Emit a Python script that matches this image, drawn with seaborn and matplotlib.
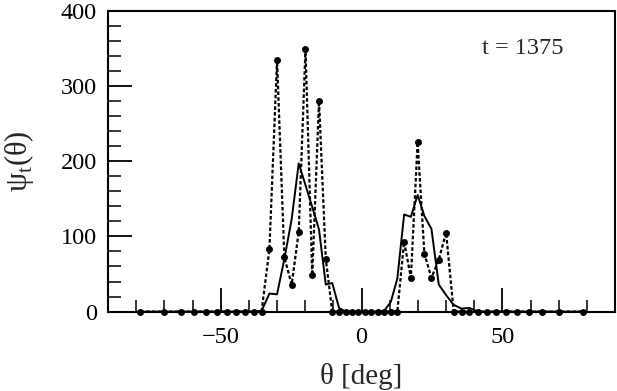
import numpy as np
import pandas as pd
import seaborn as sns
import matplotlib.pyplot as plt
from matplotlib.ticker import MultipleLocator

# angle grid (deg)
theta = [-78.5, -70.0, -64.2, -59.3, -55.1, -51.3, -47.7, -44.4, -41.3, -38.3,
         -35.5, -32.7, -30.0, -27.4, -24.8, -22.3, -19.9, -17.5, -15.1, -12.7,
         -10.4, -8.0, -5.7, -3.4, -1.1, 1.1, 3.4, 5.7, 8.0, 10.4,
         12.7, 15.1, 17.5, 19.9, 22.3, 24.8, 27.4, 30.0, 32.7, 35.5,
         38.3, 41.3, 44.4, 47.7, 51.3, 55.1, 59.3, 64.2, 70.0, 78.5]

# dotted series with dots
psi_dots = [0, 0, 0, 0, 0, 0, 0, 0, 0, 0,
            0, 83, 334, 72, 36, 106, 349, 48, 280, 70,
            0, 0, 0, 0, 0, 0, 0, 0, 0, 0,
            0, 93, 45, 225, 77, 45, 69, 105, 0, 0,
            0, 0, 0, 0, 0, 0, 0, 0, 0, 0]

# solid series
psi_line = [0, 0, 0, 0, 0, 0, 0, 0, 0, 0,
            1, 24, 23, 70, 123, 197, 168, 139, 109, 36,
            38, 5, 0, 0, 0, 0, 0, 0, 1, 13,
            44, 129, 126, 155, 127, 110, 36, 22, 9, 4,
            5, 0, 0, 0, 0, 0, 0, 0, 0, 0]

xticks = [-50, 0, 50]
yticks = [0, 100, 200, 300, 400]

df = pd.DataFrame({'theta': theta, 'dots': psi_dots, 'line': psi_line})

sns.set_style('ticks')
plt.rcParams['font.family'] = ['Liberation Serif', 'DejaVu Serif']
plt.rcParams['mathtext.fontset'] = 'custom'
plt.rcParams['mathtext.rm'] = 'Liberation Serif'

fig = plt.figure(figsize=(6.17, 3.91), dpi=100)
ax = fig.add_axes([0.175, 0.203, 0.822, 0.770])

sns.lineplot(data=df, x='theta', y='line', ax=ax, color='black', linewidth=1.4,
             sort=False, clip_on=False)
sns.lineplot(data=df, x='theta', y='dots', ax=ax, color='black', linewidth=1.6,
             linestyle=(0, (1.6, 1.0)), marker='o', markersize=5,
             markeredgewidth=0, sort=False, clip_on=False)

ax.set_xlim(-90, 90)
ax.set_ylim(0, 400)
ax.set_xticks(xticks)
ax.set_yticks(yticks)
ax.xaxis.set_minor_locator(MultipleLocator(10))
ax.yaxis.set_minor_locator(MultipleLocator(20))
ax.tick_params(which='major', direction='in', length=17, width=1.3,
               labelsize=17.5, top=False, right=False, pad=8, colors='black')
ax.tick_params(axis='x', which='major', pad=11)
ax.tick_params(which='minor', direction='in', length=9, width=1.3,
               top=False, right=False)
for s in ax.spines.values():
    s.set_linewidth(1.5)
    s.set_color('black')

ax.set_xlabel('θ [deg]', fontsize=21, labelpad=11)
ax.set_ylabel('ψ$_\\mathrm{t}$(θ)', fontsize=22, labelpad=18)
ax.text(42.6, 349, 't = 1375', fontsize=17.5, va='center')

fig.savefig('out.png', dpi=100)
